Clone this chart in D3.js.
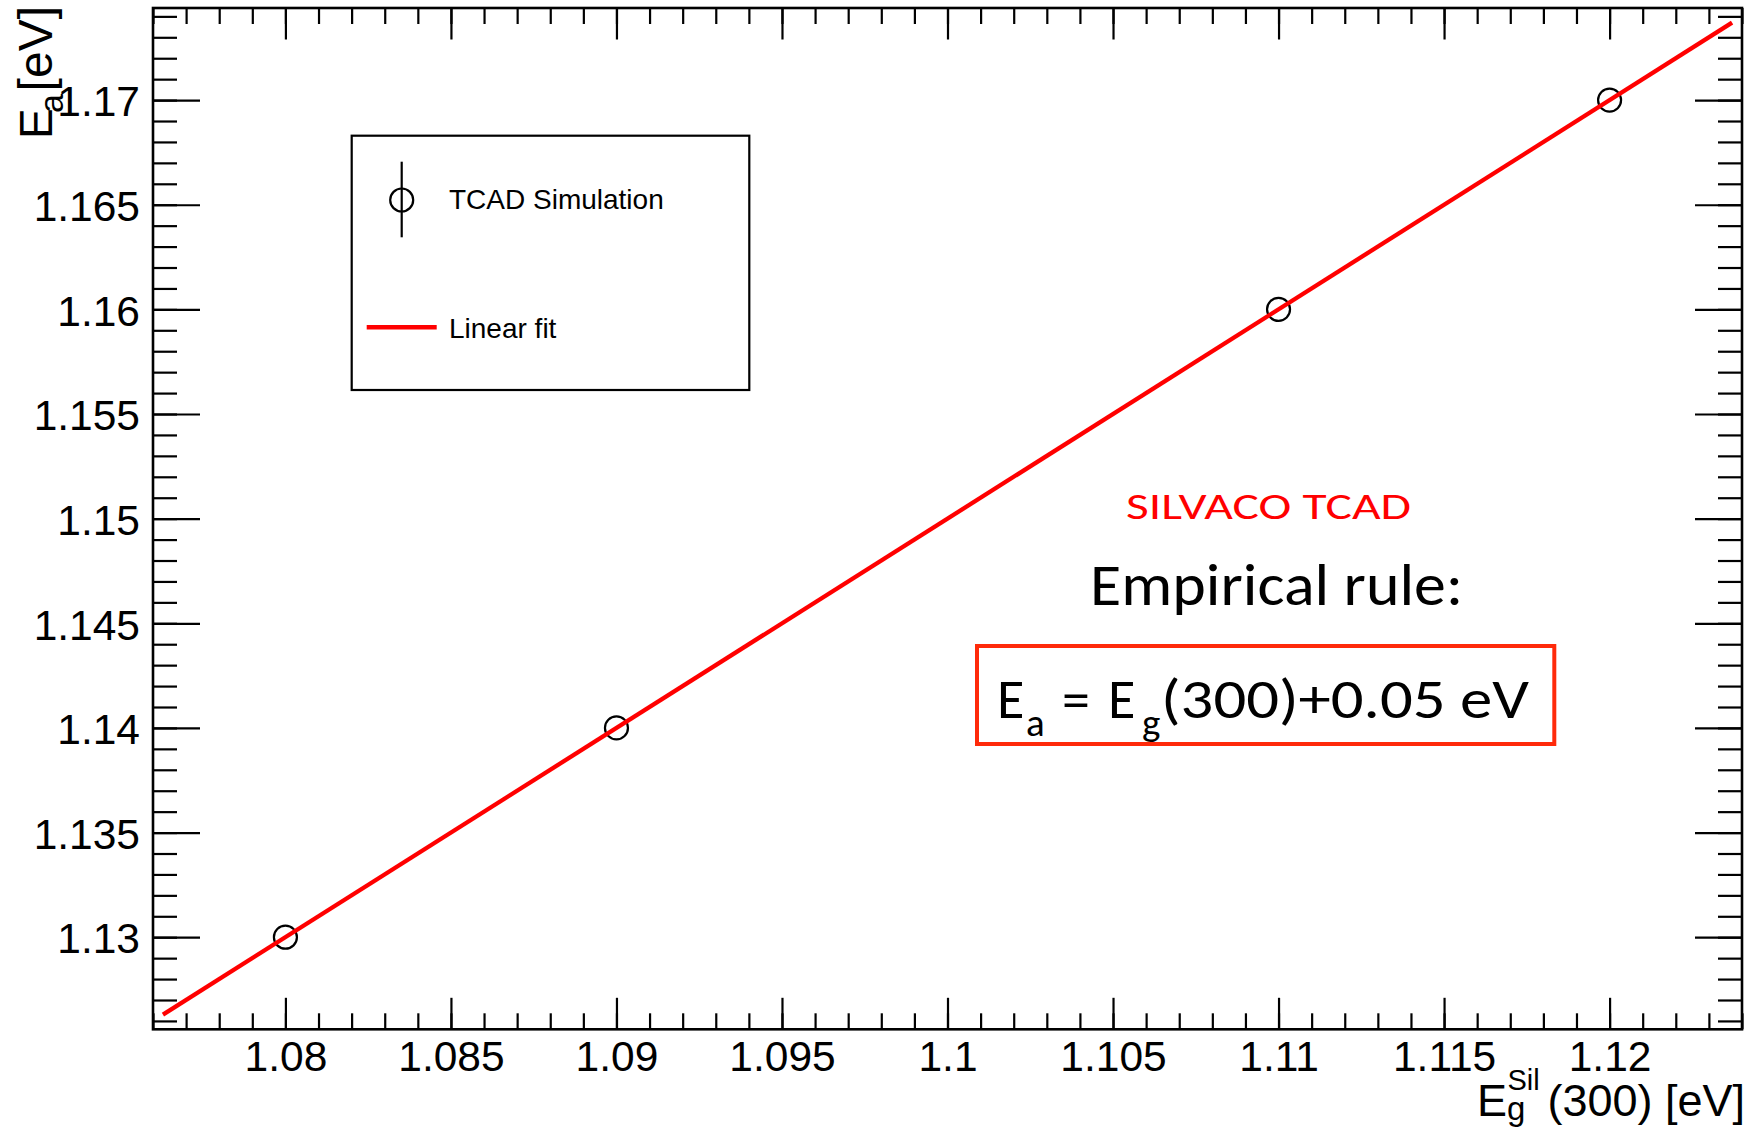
<!DOCTYPE html>
<html>
<head>
<meta charset="utf-8">
<script src="https://cdn.jsdelivr.net/npm/d3@7"></script>
<style>
  html, body { margin: 0; padding: 0; background: #fff; }
  svg { display: block; }
  .axis text { font-family: "Liberation Sans", Arial, Helvetica, sans-serif; font-size: 42.5px; fill: #000; }
  .axis line { stroke: #000; stroke-width: 2.2px; }
  .title { font-family: "Liberation Sans", Arial, Helvetica, sans-serif; fill: #000; }
  .note { font-family: Carlito, Calibri, Lato, "Open Sans", sans-serif; }
</style>
</head>
<body>
<svg id="chart" width="1751" height="1129"></svg>
<script>
// Simulated activation energy versus the silicon band gap at 300 K
const bandGap = [1.08, 1.09, 1.11, 1.12];          // E_g^Sil(300) [eV]
const activation = [1.13, 1.14, 1.16, 1.17];      // E_a [eV]

// Linear fit E_a = slope * E_g + offset, drawn over its fit range
const fitSlope = 1.0;
const fitOffset = 0.05;
const fitRange = [1.0763, 1.1237];

// Axis ranges and tick labels
const xDomain = [1.076, 1.124];
const yDomain = [1.1256, 1.1744];
const xMajorTicks = [1.08, 1.085, 1.09, 1.095, 1.1, 1.105, 1.11, 1.115, 1.12];
const xTickLabels = ["1.08", "1.085", "1.09", "1.095", "1.1", "1.105", "1.11", "1.115", "1.12"];
const yMajorTicks = [1.13, 1.135, 1.14, 1.145, 1.15, 1.155, 1.16, 1.165, 1.17];
const yTickLabels = ["1.13", "1.135", "1.14", "1.145", "1.15", "1.155", "1.16", "1.165", "1.17"];
const xMinorTicks = d3.range(76, 125).map(i => 1 + i / 1000);
const yMinorTicks = d3.range(126, 175).map(i => 1 + i / 1000);

const legendLabels = ["TCAD Simulation", "Linear fit"];

// Frame of the plotting area
const frame = { left: 153, right: 1742, top: 8, bottom: 1029.3 };

const svg = d3.select("#chart");
const x = d3.scaleLinear().domain(xDomain).range([frame.left, frame.right]);
const y = d3.scaleLinear().domain(yDomain).range([frame.bottom, frame.top]);

// ---- axes: major and minor ticks on all four sides, pointing inward ----
function addAxis(axis, tx, ty) {
  const g = svg.append("g").attr("class", "axis").attr("transform", `translate(${tx},${ty})`);
  g.call(axis);
  g.select(".domain").remove();
  return g;
}
addAxis(d3.axisBottom(x).tickValues(xMinorTicks).tickSize(-16).tickFormat(""), 0, frame.bottom);
addAxis(d3.axisBottom(x).tickValues(xMajorTicks).tickSize(-31.5).tickPadding(12)
  .tickFormat((d, i) => xTickLabels[i]), 0, frame.bottom);
addAxis(d3.axisTop(x).tickValues(xMinorTicks).tickSize(-16).tickFormat(""), 0, frame.top);
addAxis(d3.axisTop(x).tickValues(xMajorTicks).tickSize(-31.5).tickFormat(""), 0, frame.top);

addAxis(d3.axisLeft(y).tickValues(yMinorTicks).tickSize(-24).tickFormat(""), frame.left, 0);
const gyMaj = addAxis(d3.axisLeft(y).tickValues(yMajorTicks).tickSize(-47).tickPadding(13)
  .tickFormat((d, i) => yTickLabels[i]), frame.left, 0);
gyMaj.selectAll("text").attr("dy", "0.37em");
addAxis(d3.axisRight(y).tickValues(yMinorTicks).tickSize(-24).tickFormat(""), frame.right, 0);
addAxis(d3.axisRight(y).tickValues(yMajorTicks).tickSize(-47).tickFormat(""), frame.right, 0);

// frame box
svg.append("rect")
  .attr("x", frame.left).attr("y", frame.top)
  .attr("width", frame.right - frame.left).attr("height", frame.bottom - frame.top)
  .attr("fill", "none").attr("stroke", "#000").attr("stroke-width", 2.6);

// ---- data points (open circles) ----
const points = bandGap.map((v, i) => ({ x: v, y: activation[i] }));
svg.append("g").selectAll("circle").data(points).join("circle")
  .attr("cx", d => x(d.x)).attr("cy", d => y(d.y)).attr("r", 11.5)
  .attr("fill", "none").attr("stroke", "#000").attr("stroke-width", 2.2);

// ---- fit line ----
const fitPts = fitRange.map(v => ({ x: v, y: fitSlope * v + fitOffset }));
svg.append("path")
  .datum(fitPts)
  .attr("d", d3.line().x(d => x(d.x)).y(d => y(d.y)))
  .attr("fill", "none").attr("stroke", "#ff0000").attr("stroke-width", 4.3);

// ---- axis titles ----
// x: E_g^Sil(300) [eV], one text element with positioned pieces
const xt = svg.append("text").attr("class", "title");
xt.append("tspan").attr("x", 1477).attr("y", 1116).attr("font-size", 45).text("E");
xt.append("tspan").attr("x", 1507.5).attr("y", 1090).attr("font-size", 29).text("Sil");
xt.append("tspan").attr("x", 1507).attr("y", 1120).attr("font-size", 33).text("g");
const xtTail = xt.append("tspan").attr("y", 1116).attr("font-size", 45).text("(300) [eV]");
xtTail.attr("x", 1745 - xtTail.node().getComputedTextLength());

// y: E_a [eV], reading upward
const yt = svg.append("text").attr("class", "title").attr("transform", "rotate(-90)");
yt.append("tspan").attr("x", -139).attr("y", 51.7).attr("font-size", 46).text("E");
yt.append("tspan").attr("x", -113).attr("y", 63).attr("font-size", 34).text("a");
const ytTail = yt.append("tspan").attr("y", 51.7).attr("font-size", 48).text("[eV]");
ytTail.attr("x", -6 - ytTail.node().getComputedTextLength());

// ---- legend ----
const lg = svg.append("g");
lg.append("rect").attr("x", 351.7).attr("y", 135.7).attr("width", 397.6).attr("height", 254.3)
  .attr("fill", "#fff").attr("stroke", "#000").attr("stroke-width", 2.2);
lg.append("line").attr("x1", 401.7).attr("x2", 401.7).attr("y1", 161.7).attr("y2", 237.3)
  .attr("stroke", "#000").attr("stroke-width", 2.2);
lg.append("circle").attr("cx", 401.7).attr("cy", 200).attr("r", 11.5)
  .attr("fill", "none").attr("stroke", "#000").attr("stroke-width", 2.2);
lg.append("line").attr("x1", 366.7).attr("x2", 436.7).attr("y1", 327.3).attr("y2", 327.3)
  .attr("stroke", "#ff0000").attr("stroke-width", 4.5);
lg.selectAll("text.leg").data(legendLabels).join("text")
  .attr("class", "leg title")
  .attr("x", 449).attr("y", (d, i) => i === 0 ? 209.3 : 338.3)
  .attr("font-size", 28).text(d => d);

// ---- annotations ----
const notes = svg.append("g").attr("class", "note");
notes.append("text").attr("x", 1126).attr("y", 518.5).attr("font-size", 36.5)
  .attr("fill", "#ff0000").attr("textLength", 285).attr("lengthAdjust", "spacingAndGlyphs")
  .text("SILVACO TCAD");
notes.append("text").attr("x", 1090).attr("y", 605).attr("font-size", 60)
  .attr("fill", "#000").attr("textLength", 373).attr("lengthAdjust", "spacingAndGlyphs")
  .text("Empirical rule:");

notes.append("rect").attr("x", 977).attr("y", 646).attr("width", 577.3).attr("height", 98)
  .attr("fill", "none").attr("stroke", "#ff2a0a").attr("stroke-width", 4);

// E_a = E_g(300)+0.05 eV, built from pieces with subscripts
const eqPieces = [
  { t: "E", x: 997, y: 718.3, s: 56 },
  { t: "a", x: 1026, y: 736, s: 39 },
  { t: "=", x: 1062, y: 718.3, s: 56 },
  { t: "E", x: 1108, y: 718.3, s: 56 },
  { t: "g", x: 1142, y: 736, s: 39 },
  { t: "(300)+0.05 eV", x: 1161, y: 718.3, s: 56, len: 368 }
];
notes.selectAll("text.eq").data(eqPieces).join("text")
  .attr("class", "eq")
  .attr("x", d => d.x).attr("y", d => d.y)
  .attr("font-size", d => d.s).attr("fill", "#000")
  .attr("textLength", d => d.len || null)
  .attr("lengthAdjust", d => d.len ? "spacingAndGlyphs" : null)
  .text(d => d.t);
</script>
</body>
</html>
